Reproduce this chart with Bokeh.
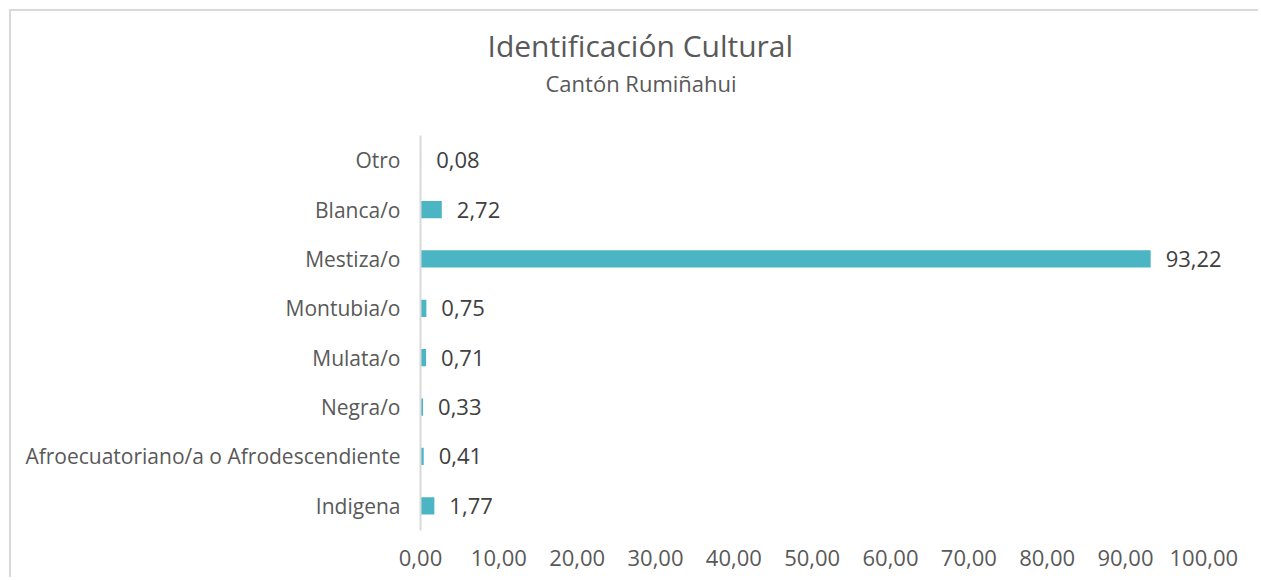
from bokeh.plotting import figure
from bokeh.models import FactorRange, Range1d, FixedTicker, Title, ColumnDataSource
from bokeh.core.properties import value
from bokeh.embed import file_html
from bokeh.resources import INLINE

# ---- data (bottom to top) ----
categories = ["Indigena", "Afroecuatoriano/a o Afrodescendiente", "Negra/o",
              "Mulata/o", "Montubia/o", "Mestiza/o", "Blanca/o", "Otro"]
values = [1.77, 0.41, 0.33, 0.71, 0.75, 93.22, 2.72, 0.08]
x_ticks = [0, 10, 20, 30, 40, 50, 60, 70, 80, 90, 100]
x_tick_labels = ["0,00", "10,00", "20,00", "30,00", "40,00", "50,00",
                 "60,00", "70,00", "80,00", "90,00", "100,00"]
title_text = "Identificación Cultural"
subtitle_text = "Cantón Rumiñahui"

FONT = "Open Sans"
BAR = "#4BB5C4"

labels = [f"{v:.2f}".replace(".", ",") for v in values]
src = ColumnDataSource(dict(cat=categories, val=values, lab=labels))

p = figure(width=1249, height=568,
           y_range=FactorRange(factors=categories, range_padding=0),
           x_range=Range1d(0, 106.6),
           output_backend="svg", toolbar_location=None,
           min_border_left=409, min_border_right=5,
           min_border_top=124, min_border_bottom=49)
p.styles = {"margin-left": "9px", "margin-top": "9px",
            "border-left": "2px solid #d9d9d9", "border-top": "2px solid #d9d9d9"}

p.hbar(y="cat", right="val", left=0, height=0.35, source=src,
       fill_color=BAR, line_color=None)
p.text(x="val", y="cat", text="lab", source=src, x_offset=15,
       text_align="left", text_baseline="middle",
       text_font=value(FONT), text_font_size="22px", text_color="#404040")

# axes
p.xaxis.ticker = FixedTicker(ticks=x_ticks)
p.xaxis.major_label_overrides = {t: l for t, l in zip(x_ticks, x_tick_labels)}
p.xaxis.axis_line_color = None
p.xaxis.major_tick_line_color = None
p.xaxis.minor_tick_line_color = None
p.xaxis.major_tick_out = 0
p.xaxis.major_label_standoff = 19
p.xaxis.major_label_text_font = FONT
p.xaxis.major_label_text_font_size = "22px"
p.xaxis.major_label_text_color = "#595959"

p.yaxis.axis_line_color = "#d9d9d9"
p.yaxis.axis_line_width = 2
p.yaxis.major_tick_line_color = None
p.yaxis.major_tick_out = 0
p.yaxis.major_label_standoff = 20
p.yaxis.major_label_text_font = FONT
p.yaxis.major_label_text_font_size = "21px"
p.yaxis.major_label_text_color = "#595959"

p.xgrid.visible = False
p.ygrid.visible = False
p.outline_line_color = None

# titles (first added sits nearest the frame); a blank spacer keeps them up
p.add_layout(Title(text=" ", standoff=35, text_font=FONT, text_font_size="1px",
                   text_color="#ffffff"), "above")
p.add_layout(Title(text=subtitle_text, align="left", offset=125, standoff=0,
                   text_font=FONT, text_font_size="22px", text_font_style="normal",
                   text_color="#595959"), "above")
p.add_layout(Title(text=title_text, align="left", offset=67, standoff=0,
                   text_font=FONT, text_font_size="30px", text_font_style="normal",
                   text_color="#595959"), "above")

open("out.html", "w").write(file_html(p, INLINE))
